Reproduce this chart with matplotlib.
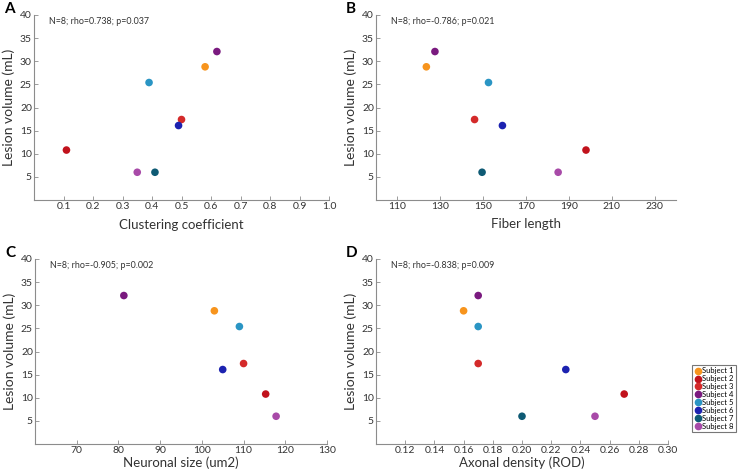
import numpy as np
import matplotlib
matplotlib.use("Agg")
import matplotlib.pyplot as plt
from matplotlib.lines import Line2D

plt.rcParams['font.family'] = ['Lato', 'DejaVu Sans']

subjects = ['Subject 1', 'Subject 2', 'Subject 3', 'Subject 4',
            'Subject 5', 'Subject 6', 'Subject 7', 'Subject 8']
colors = ['#f7941d', '#c1121c', '#d42a2a', '#7a1a7f',
          '#2a95c4', '#1c22b0', '#0e5a74', '#a84aa8']

lesion = [28.8, 10.8, 17.4, 32.1, 25.4, 16.1, 6.0, 6.0]
clustering = [0.58, 0.11, 0.50, 0.62, 0.39, 0.49, 0.41, 0.35]
fiber = [123.5, 198.0, 146.0, 127.5, 152.5, 159.0, 149.5, 185.0]
neuronal = [103.0, 115.3, 110.0, 81.3, 109.0, 105.0, np.nan, 117.8]
axonal = [0.16, 0.27, 0.17, 0.17, 0.17, 0.23, 0.20, 0.25]

stats = ['N=8; rho=0.738; p=0.037', 'N=8; rho=-0.786; p=0.021',
         'N=8; rho=-0.905; p=0.002', 'N=8; rho=-0.838; p=0.009']
xlabels = ['Clustering coefficient', 'Fiber length',
           'Neuronal size (um2)', 'Axonal density (ROD)']
letters = ['A', 'B', 'C', 'D']
xdata = [clustering, fiber, neuronal, axonal]
xlims = [(0, 1.0), (100, 240), (60, 130), (0.10, 0.30)]
xticks = [np.arange(0.1, 1.01, 0.1), np.arange(110, 231, 20),
          np.arange(70, 131, 10), np.arange(0.12, 0.301, 0.02)]
xfmt = ['%.1f', '%d', '%d', '%.2f']

W, H = 738, 471
# axes boxes in pixels: left, right, top, bottom
boxes = [(34, 329, 15, 200), (376, 676, 15, 200),
         (35, 327, 259, 444), (376, 668, 259, 444)]
xlab_off = [25, 24, 19, 19]   # px from bottom spine to x label centre

fig = plt.figure(figsize=(W / 100, H / 100), dpi=100)
grey = '#8c8c8c'
txt = '#333333'

for i in range(4):
    l, r, t, b = boxes[i]
    w, h = r - l, b - t
    ax = fig.add_axes([l / W, 1 - b / H, w / W, h / H])
    for x, y, c in zip(xdata[i], lesion, colors):
        ax.scatter(x, y, s=30, color=c, edgecolors='none', zorder=3)
    ax.set_xlim(*xlims[i])
    ax.set_ylim(0, 40)
    ax.set_yticks(np.arange(5, 41, 5))
    ax.set_xticks(xticks[i])
    ax.set_xticklabels([xfmt[i] % v for v in xticks[i]])
    for s in ['top', 'right']:
        ax.spines[s].set_visible(False)
    for s in ['left', 'bottom']:
        ax.spines[s].set_color(grey)
        ax.spines[s].set_linewidth(0.8)
    ax.tick_params(direction='in', colors=grey, labelcolor=txt, labelsize=7.5,
                   length=3, width=0.6, pad=1.5)
    ax.set_ylabel('Lesion volume (mL)', fontsize=10, color=txt, va='center')
    ax.yaxis.set_label_coords(-25.5 / w, 0.5)
    ax.set_xlabel(xlabels[i], fontsize=9.5, color=txt, va='center')
    ax.xaxis.set_label_coords(0.5, -xlab_off[i] / h)
    ax.text(15 / w, 1 - 6 / h, stats[i], transform=ax.transAxes, fontsize=6.4,
            color=txt, va='center', ha='left')
    fig.text((l - 30) / W, 1 - (t - 6) / H, letters[i], fontsize=11,
             fontweight='bold', ha='left', va='center')

handles = [Line2D([], [], marker='o', linestyle='none', color=c,
                  markersize=4.5, label=lab) for c, lab in zip(colors, subjects)]
leg = fig.legend(handles=handles, loc='upper right',
                 bbox_to_anchor=(736 / W, 1 - 365 / H), fontsize=5.5,
                 frameon=True, fancybox=False, borderpad=0.3,
                 handletextpad=0.1, labelspacing=0.12, handlelength=1.0,
                 borderaxespad=0)
leg.get_frame().set_edgecolor('#555555')
leg.get_frame().set_linewidth(0.8)

fig.savefig('out.png', dpi=100)
